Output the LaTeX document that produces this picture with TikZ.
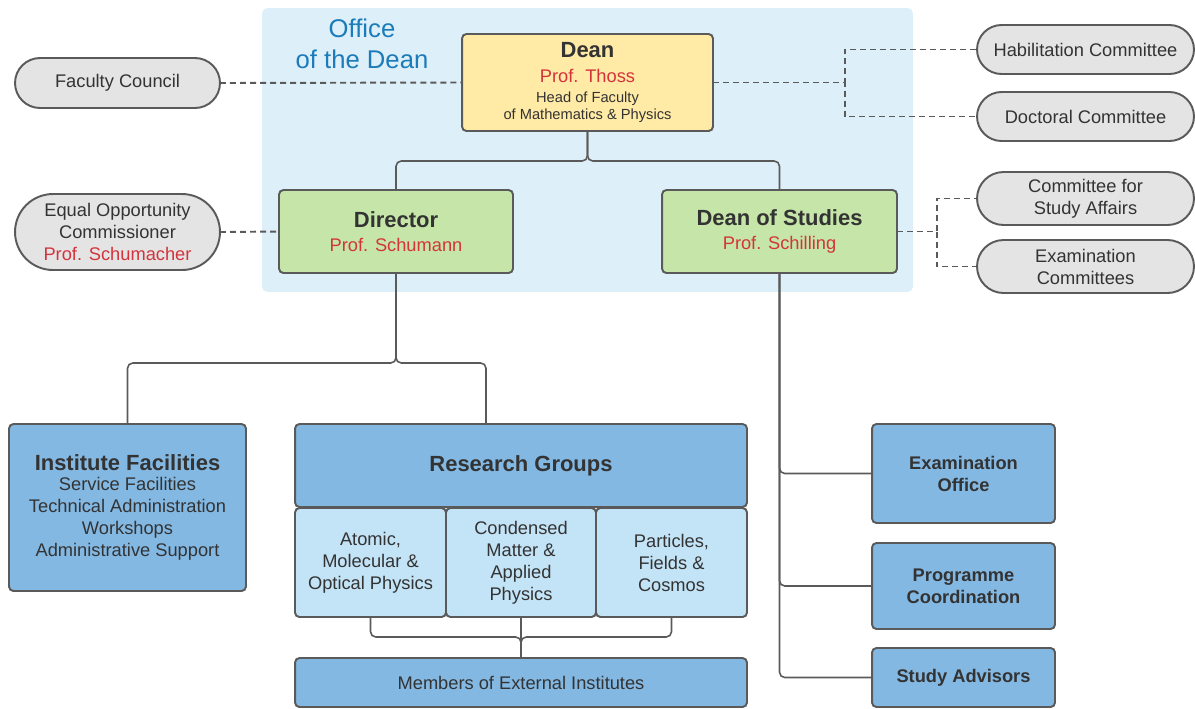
\documentclass[tikz,border=0pt]{standalone}
\usepackage{fontspec}
\setmainfont{Liberation Sans}
\usetikzlibrary{shapes.misc}

\definecolor{officebg}{RGB}{221,239,249}
\definecolor{officetxt}{RGB}{28,124,186}
\definecolor{deanfill}{RGB}{255,234,166}
\definecolor{greenfill}{RGB}{197,230,168}
\definecolor{bluefill}{RGB}{131,184,227}
\definecolor{lightfill}{RGB}{195,227,246}
\definecolor{pillfill}{RGB}{228,228,228}
\definecolor{edge}{RGB}{90,90,90}
\definecolor{ink}{RGB}{51,51,51}
\definecolor{profred}{RGB}{211,52,60}

\newcommand{\normtxt}{\fontsize{10.4}{12.5}\selectfont}
\newcommand{\boldtxt}{\fontsize{12.5}{14}\selectfont\bfseries}
\newcommand{\smalltxt}{\fontsize{8.35}{9.6}\selectfont}
\newcommand{\prof}[1]{{\color{profred}#1}}

\begin{document}
\begin{tikzpicture}[
	x=0.02cm, y=-0.02cm,
	box/.style={draw=edge, line width=1.1pt, rectangle, rounded corners=2.5pt, inner sep=0pt, outer sep=0pt, align=center, text=ink, font=\normtxt},
	pill/.style={draw=edge, line width=1.1pt, rounded rectangle, fill=pillfill, inner sep=0pt, outer sep=0pt, minimum width=4.1cm, align=center, text=ink, font=\normtxt},
	connect/.style={draw=edge, line width=0.9pt, rounded corners=3pt},
	dashlink/.style={draw=edge, line width=1.1pt, dash pattern=on 3.4pt off 2.3pt}
	]
	\useasboundingbox (0,0) rectangle (1195,708);
	
	%-----------------------
	% Customizable heights
	%-----------------------
	\def\hdean{82.5}    % Row 1: dean
	\def\hdir{231.5}    % Row 2: director, dean of studies
	\def\hunits{465.5}  % Row 3: facilities, research groups
	\def\hareas{562.5}  % Row 4: research areas
	\def\hext{682.5}    % Row 5: external institutes
	
	%-----------------------
	% Office of the Dean
	%-----------------------
	\node[fill=officebg, rounded corners=3pt, minimum width=13.02cm, minimum height=5.68cm, inner sep=0pt] (office) at (587.5,150) {};
	\node[text=officetxt, font=\fontsize{14.6}{18}\selectfont, align=center] (officelbl) at (362,44) {Office\\of the Dean};
	
	%-----------------------
	% Row 1: dean
	%-----------------------
	\node[box, fill=deanfill, minimum width=5.02cm, minimum height=1.94cm] (dean) at (587.5,\hdean)
		{{\boldtxt Dean}\\[1.5pt]\prof{Prof. Thoss}\\[-0.8pt]{\smalltxt Head of Faculty}\\[-3pt]{\smalltxt of Mathematics \& Physics}};
	\node[pill, minimum height=1.0cm] (council) at (117.5,83) {Faculty Council};
	\node[pill, minimum width=4.34cm, minimum height=0.98cm] (habil) at (1085.5,49.5) {Habilitation Committee};
	\node[pill, minimum width=4.34cm, minimum height=0.98cm] (doctoral) at (1085.5,116.5) {Doctoral Committee};
	
	%-----------------------
	% Row 2: director, dean of studies
	%-----------------------
	\node[box, fill=greenfill, minimum width=4.68cm, minimum height=1.66cm] (director) at (396,\hdir)
		{{\boldtxt Director}\\[1pt]\prof{Prof. Schumann}};
	\node[box, fill=greenfill, minimum width=4.7cm, minimum height=1.66cm] (studies) at (779.5,\hdir)
		{{\boldtxt Dean of Studies}\\[1pt]\prof{Prof. Schilling}};
	\node[pill, minimum height=1.52cm] (equal) at (117.5,232) {Equal Opportunity\\Commissioner\\\prof{Prof. Schumacher}};
	\node[pill, minimum width=4.34cm, minimum height=1.06cm] (affairs) at (1085.5,198.5) {Committee for\\Study Affairs};
	\node[pill, minimum width=4.34cm, minimum height=1.06cm] (examcom) at (1085.5,266.5) {Examination\\Committees};
	
	%-----------------------
	% Row 3: facilities, research groups
	%-----------------------
	\node[box, fill=bluefill, minimum width=4.74cm, minimum height=3.34cm] (facil) at (127.5,507.5)
		{{\boldtxt Institute Facilities}\\[-1.5pt]Service Facilities\\Technical Administration\\Workshops\\Administrative Support};
	\node[box, fill=bluefill, minimum width=9.04cm, minimum height=1.66cm, font=\boldtxt] (research) at (521,\hunits) {Research Groups};
	
	%-----------------------
	% Row 4: research areas
	%-----------------------
	\node[box, fill=lightfill, minimum width=3.02cm, minimum height=2.18cm] (atomic) at (370.5,\hareas) {Atomic,\\Molecular \&\\Optical Physics};
	\node[box, fill=lightfill, minimum width=3.0cm, minimum height=2.18cm] (condensed) at (521,\hareas) {Condensed\\Matter \&\\Applied\\Physics};
	\node[box, fill=lightfill, minimum width=3.02cm, minimum height=2.18cm] (particles) at (671.5,\hareas) {Particles,\\Fields \&\\Cosmos};
	
	%-----------------------
	% Row 5: external institutes
	%-----------------------
	\node[box, fill=bluefill, minimum width=9.04cm, minimum height=0.98cm] (members) at (521,\hext) {Members of External Institutes};
	
	%-----------------------
	% Study offices
	%-----------------------
	\node[box, fill=bluefill, minimum width=3.66cm, minimum height=1.98cm, font=\normtxt\bfseries] (examoffice) at (963.5,473.5) {Examination\\Office};
	\node[box, fill=bluefill, minimum width=3.66cm, minimum height=1.72cm, font=\normtxt\bfseries] (progcoord) at (963.5,586) {Programme\\Coordination};
	\node[box, fill=bluefill, minimum width=3.66cm, minimum height=1.18cm, font=\normtxt\bfseries] (advisors) at (963.5,677.5) {Study Advisors};
	
	%-----------------------
	% Connections
	%-----------------------
	% Dean -> director, dean of studies
	\draw[connect] (dean.south) -- ++(0,30) -| (director.north);
	\draw[connect] (dean.south) -- ++(0,30) -| (studies.north);
	
	% Director -> facilities, research groups
	\draw[connect] (director.south) -- ++(0,90) -| (facil.north);
	\draw[connect] (director.south) -- ++(0,90) -| ([xshift=-0.7cm]research.north);
	
	% Research areas -> external institutes
	\draw[connect] (atomic.south) -- ++(0,20) -| (members.north);
	\draw[connect] (particles.south) -- ++(0,20) -| (members.north);
	\draw[connect] (condensed.south) -- (members.north);
	
	% Dean of studies -> offices
	\draw[connect] (studies.south) |- (examoffice.west);
	\draw[connect] (studies.south) |- (progcoord.west);
	\draw[connect] (studies.south) |- (advisors.west);
	
	% Committees (dashed)
	\draw[dashlink] (council.east) -- (dean.west);
	\draw[dashlink] (dean.east) -- ++(132,0) |- (habil.west);
	\draw[dashlink] (dean.east) -- ++(132,0) |- (doctoral.west);
	\draw[dashlink] (equal.east) -- (director.west);
	\draw[dashlink] (studies.east) -- ++(40,0) |- (affairs.west);
	\draw[dashlink] (studies.east) -- ++(40,0) |- (examcom.west);
	
\end{tikzpicture}
\end{document}
